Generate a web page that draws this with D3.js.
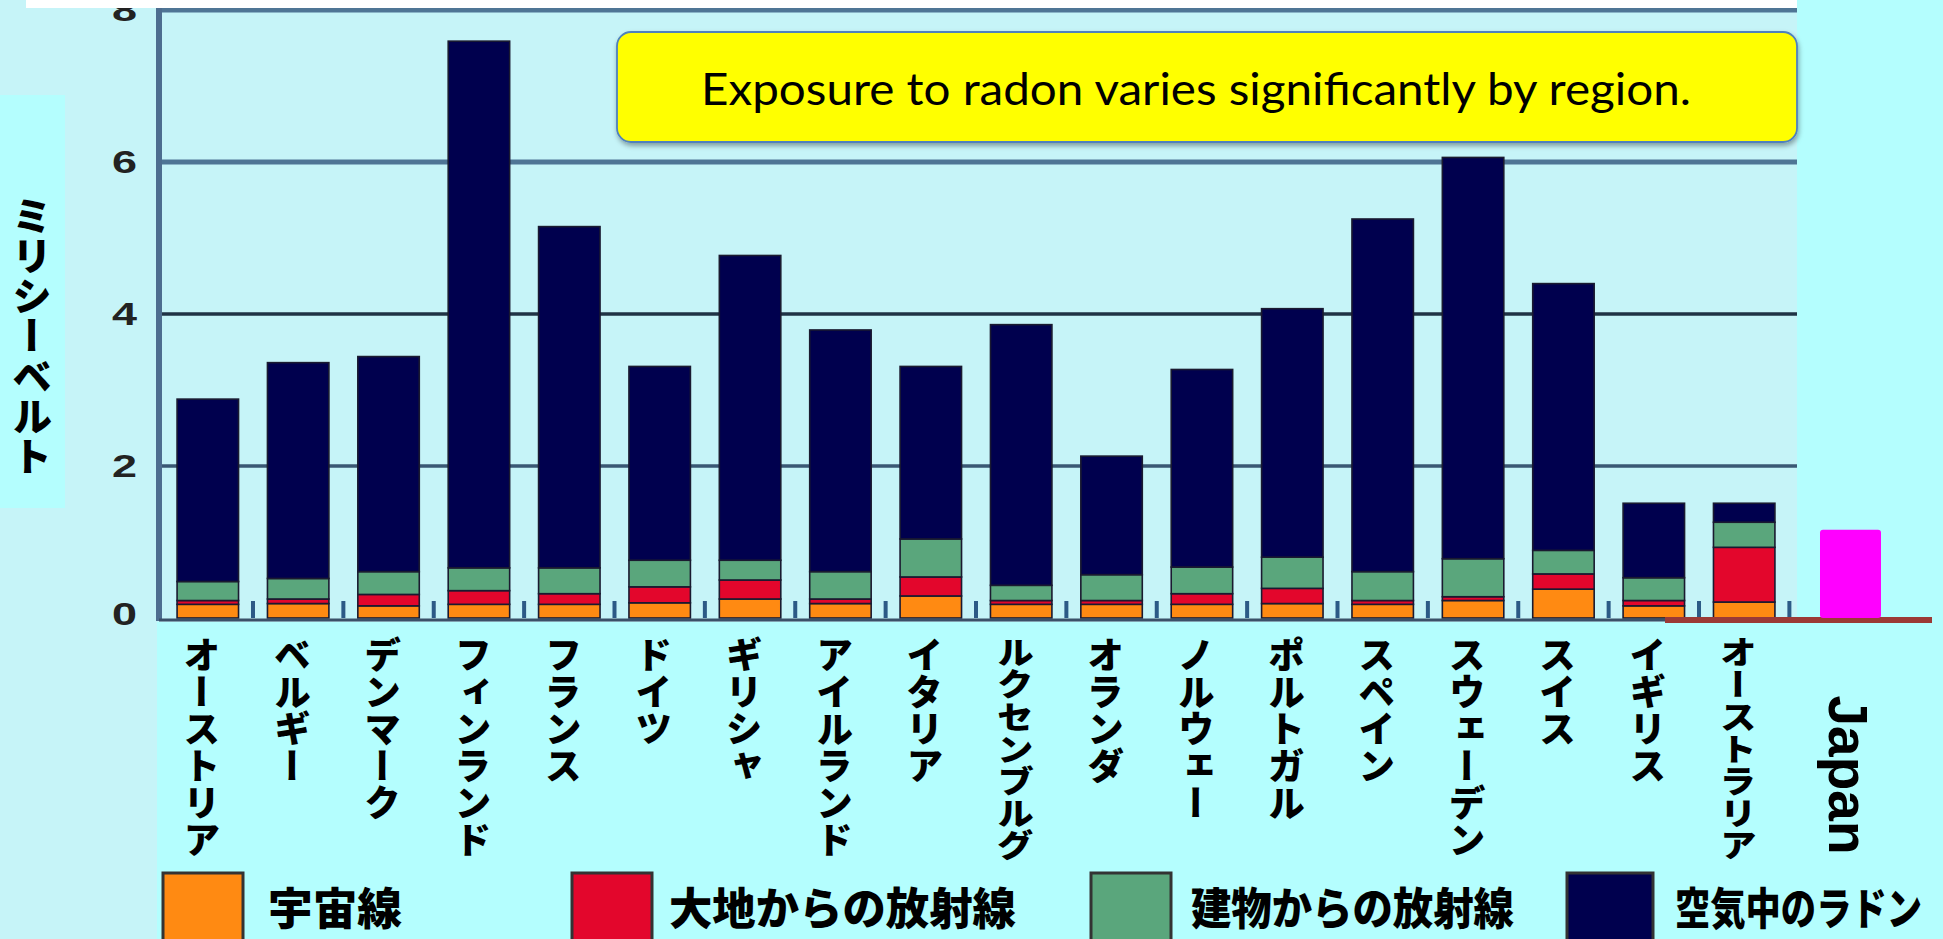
<!DOCTYPE html>
<html><head><meta charset="utf-8">
<script src="https://cdn.jsdelivr.net/npm/d3@7"></script>
<style>
  body { margin: 0; background: #b4fefe; }
  svg { display: block; }
</style>
</head><body>
<svg id="chart" width="1943" height="939"></svg>
<script>
// ---- data (mSv per year) ----
const categories = ["オーストリア","ベルギー","デンマーク","フィンランド","フランス","ドイツ","ギリシャ","アイルランド","イタリア","ルクセンブルグ","オランダ","ノルウェー","ポルトガル","スペイン","スウェーデン","スイス","イギリス","オーストラリア"];
const cosmic      = [0.18,0.19,0.16,0.18,0.18,0.20,0.25,0.19,0.29,0.18,0.18,0.18,0.19,0.18,0.23,0.38,0.16,0.21];
const terrestrial = [0.05,0.06,0.15,0.18,0.14,0.21,0.25,0.06,0.25,0.05,0.05,0.14,0.20,0.05,0.05,0.20,0.07,0.72];
const buildings   = [0.25,0.27,0.30,0.30,0.34,0.35,0.26,0.36,0.50,0.20,0.34,0.35,0.41,0.38,0.50,0.31,0.30,0.33];
const radon       = [2.40,2.84,2.83,6.93,4.49,2.55,4.01,3.18,2.27,3.43,1.56,2.60,3.27,4.64,5.28,3.51,0.98,0.25];
const seriesNames = ["宇宙線","大地からの放射線","建物からの放射線","空気中のラドン"];
const yTicks = [0, 2, 4, 6, 8];
const japanName = "Japan";
const japanTotal = 1.16;
const yTitle = "ミリシーベルト";
const note = "Exposure to radon varies significantly by region.";

// ---- styling / layout ----
const seriesColors = ["#ff8a12", "#e3062c", "#5aa67c", "#00004e"];
const legendLayout = [
  { sx: 163,  tx: 268,  tw: 134 },
  { sx: 572,  tx: 669,  tw: 347 },
  { sx: 1091, tx: 1191, tw: 323 },
  { sx: 1567, tx: 1675, tw: 247 }
];
const plotLeft = 159, plotRight = 1797, plotTop = 10, plotBottom = 618;
const jpFont = "'Noto Sans CJK JP', sans-serif";

const svg = d3.select("#chart");

// backgrounds
svg.append("rect").attr("width", 1943).attr("height", 939).attr("fill", "#b4fefe");
svg.append("rect").attr("x", 0).attr("y", 0).attr("width", plotRight).attr("height", 622).attr("fill", "#c6f4f8");
svg.append("rect").attr("x", 0).attr("y", 0).attr("width", 157).attr("height", 939).attr("fill", "#c6f4f8");
svg.append("rect").attr("x", 0).attr("y", 95).attr("width", 65).attr("height", 413).attr("fill", "#b4fefe");

// scales
const x = d3.scaleBand().domain(categories).range([plotLeft, 1793]).paddingInner(0.32).paddingOuter(0.2);
const y = d3.scaleLinear().domain([0, 8]).range([plotBottom, plotTop]);

// gridlines
svg.append("g").selectAll("line").data(yTicks.filter(d => d > 0)).join("line")
  .attr("x1", plotLeft).attr("x2", plotRight)
  .attr("y1", d => y(d)).attr("y2", d => y(d))
  .attr("stroke", d => d >= 6 ? "#4f7595" : (d === 2 ? "#3a5874" : "#1f3345"))
  .attr("stroke-width", d => d >= 6 ? 5 : 3.5);

// left axis line
svg.append("line").attr("x1", plotLeft).attr("x2", plotLeft).attr("y1", 6).attr("y2", 621)
  .attr("stroke", "#4d6d8f").attr("stroke-width", 6);

// stacked bars
const rows = categories.map((c, i) => ({ cat: c, s0: cosmic[i], s1: terrestrial[i], s2: buildings[i], s3: radon[i] }));
const stack = d3.stack().keys(["s0", "s1", "s2", "s3"]);
const layers = stack(rows);
svg.append("g").selectAll("g").data(layers).join("g")
  .attr("fill", (d, i) => seriesColors[i])
  .selectAll("rect").data(d => d).join("rect")
  .attr("x", d => x(d.data.cat))
  .attr("width", x.bandwidth())
  .attr("y", d => y(d[1]))
  .attr("height", d => y(d[0]) - y(d[1]))
  .attr("stroke", "#1a1a30").attr("stroke-width", 1.6);

// small tick marks between bars
const step = x.step();
svg.append("g").selectAll("rect").data(categories).join("rect")
  .attr("x", d => x(d) + x.bandwidth() + (step - x.bandwidth()) / 2 - 2)
  .attr("y", plotBottom - 17).attr("width", 4).attr("height", 17)
  .attr("fill", "#2c5a86");

// x axis baseline
svg.append("line").attr("x1", plotLeft).attr("x2", plotRight).attr("y1", 620).attr("y2", 620)
  .attr("stroke", "#3b5068").attr("stroke-width", 3);

// y tick labels
svg.append("g").selectAll("text").data(yTicks).join("text")
  .attr("transform", d => `translate(137,${y(d) - (d === 0 ? 4 : 0)}) scale(1.45,1)`)
  .attr("text-anchor", "end").attr("dominant-baseline", "central")
  .attr("font-family", "'Liberation Sans', Arial, sans-serif").attr("font-weight", 900)
  .attr("font-size", 31).attr("fill", "#222")
  .text(d => d);

// top white strip
svg.append("rect").attr("x", 26).attr("y", 0).attr("width", plotRight - 26).attr("height", 8).attr("fill", "#ffffff");

// note box
const defs = svg.append("defs");
const f = defs.append("filter").attr("id", "shadow").attr("x", "-5%").attr("y", "-20%").attr("width", "110%").attr("height", "150%");
f.append("feDropShadow").attr("dx", 1).attr("dy", 3).attr("stdDeviation", 2.5).attr("flood-color", "#000").attr("flood-opacity", 0.35);
svg.append("rect").attr("x", 617).attr("y", 32).attr("width", 1180).attr("height", 110).attr("rx", 14)
  .attr("fill", "#ffff00").attr("stroke", "#4f81bd").attr("stroke-width", 1.8).attr("filter", "url(#shadow)");
svg.append("text").attr("x", 701).attr("y", 105)
  .attr("font-family", "Lato, 'Open Sans', sans-serif").attr("font-size", 44).attr("fill", "#000")
  .attr("textLength", 990).attr("lengthAdjust", "spacingAndGlyphs")
  .text(note);

// y axis title (vertical)
svg.append("text").attr("x", 32).attr("y", 196)
  .style("writing-mode", "vertical-rl")
  .attr("font-family", jpFont).attr("font-weight", 900).attr("font-size", 40).attr("fill", "#000")
  .text(yTitle);

// category labels (vertical)
svg.append("g").selectAll("text").data(categories).join("text")
  .attr("transform", d => {
    const n = d.length, s = Math.min(1, 225 / (n * 37));
    return `translate(${x(d) + x.bandwidth() / 2 - 6},636) scale(1,${s})`;
  })
  .attr("x", 0).attr("y", 0)
  .style("writing-mode", "vertical-rl")
  .attr("font-family", jpFont).attr("font-weight", 900).attr("font-size", 37).attr("fill", "#000")
  .text(d => d);

// Japan reference bar
svg.append("line").attr("x1", 1665).attr("x2", 1932).attr("y1", 620).attr("y2", 620)
  .attr("stroke", "#9b3a36").attr("stroke-width", 6);
svg.append("rect").attr("x", 1820).attr("y", y(japanTotal)).attr("width", 61)
  .attr("height", y(0) - y(japanTotal)).attr("rx", 3).attr("fill", "#ff00ff");
svg.append("text").attr("transform", "translate(1848,775) rotate(90)")
  .attr("text-anchor", "middle").attr("dominant-baseline", "central")
  .attr("font-family", "'Liberation Sans', Arial, sans-serif").attr("font-weight", 700)
  .attr("font-size", 55).attr("fill", "#000")
  .text(japanName);

// legend
const lg = svg.append("g").selectAll("g").data(seriesNames).join("g");
lg.append("rect").attr("x", (d, i) => legendLayout[i].sx).attr("y", 873)
  .attr("width", (d, i) => i === 3 ? 86 : 80).attr("height", 80)
  .attr("fill", (d, i) => seriesColors[i]).attr("stroke", "#333").attr("stroke-width", 3);
lg.append("text").attr("x", (d, i) => legendLayout[i].tx).attr("y", 906)
  .attr("dominant-baseline", "central")
  .attr("textLength", (d, i) => legendLayout[i].tw).attr("lengthAdjust", "spacingAndGlyphs")
  .attr("font-family", jpFont).attr("font-weight", 900).attr("font-size", 44).attr("fill", "#000")
  .text(d => d);
</script>
</body></html>
